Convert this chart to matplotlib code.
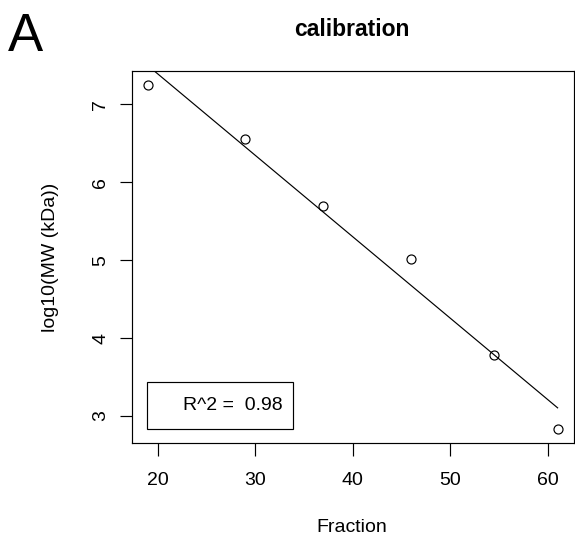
import numpy as np
import matplotlib
matplotlib.use('Agg')
import matplotlib.pyplot as plt
from matplotlib.patches import Rectangle

# data
fraction = [19, 29, 37, 46, 54.5, 61]
log_mw = [7.25, 6.55, 5.70, 5.01, 3.78, 2.83]
x_ticks = [20, 30, 40, 50, 60]
y_ticks = [3, 4, 5, 6, 7]

plt.rcParams['font.family'] = ['Liberation Sans', 'DejaVu Sans']

W, H = 575, 538
fig = plt.figure(figsize=(W / 100, H / 100), dpi=100)
# plot box in pixels: left 131.5, right 574, top 71, bottom 443
ax = fig.add_axes([131.5 / W, 1 - 443 / H, 442.5 / W, 372 / H])

slope, icpt = np.polyfit(fraction, log_mw, 1)
r2 = np.corrcoef(fraction, log_mw)[0, 1] ** 2

ax.plot(fraction, log_mw, 'o', mfc='none', mec='black', ms=6.5, mew=0.85)
xs = np.array([min(fraction), max(fraction)])
ax.plot(xs, icpt + slope * xs, color='black', lw=0.85)

# R style 4% padding
xr = max(fraction) - min(fraction)
yr = max(log_mw) - min(log_mw)
ax.set_xlim(min(fraction) - 0.04 * xr, max(fraction) + 0.04 * xr)
ax.set_ylim(min(log_mw) - 0.04 * yr, max(log_mw) + 0.04 * yr)

ax.set_xticks(x_ticks)
ax.set_yticks(y_ticks)
for s in ax.spines.values():
    s.set_linewidth(0.85)
ax.tick_params(direction='out', length=9, width=0.85, labelsize=14)
ax.tick_params(axis='x', pad=12)
ax.tick_params(axis='y', pad=7)
for lbl in ax.get_yticklabels():
    lbl.set_rotation(90)
    lbl.set_va('center')

# legend box
ax.add_patch(Rectangle((0.0357, 0.0368), 0.3286, 0.1264, transform=ax.transAxes,
                       fill=False, ec='black', lw=0.85))
ax.text(0.1164, 0.0995, 'R^2 =  %.2f' % r2, transform=ax.transAxes,
        fontsize=14, ha='left', va='center')

fig.text(352 / W, 1 - 36 / H, 'calibration', ha='center', va='baseline',
         fontsize=16.5, fontweight='bold')
fig.text(8 / W, 1 - 51 / H, 'A', ha='left', va='baseline', fontsize=38)
fig.text(352 / W, 1 - 532 / H, 'Fraction', ha='center', va='baseline', fontsize=14)
fig.text(51 / W, 1 - 257 / H, 'log10(MW (kDa))', ha='center', va='center',
         rotation=90, fontsize=14)

fig.savefig('out.png', dpi=100)
